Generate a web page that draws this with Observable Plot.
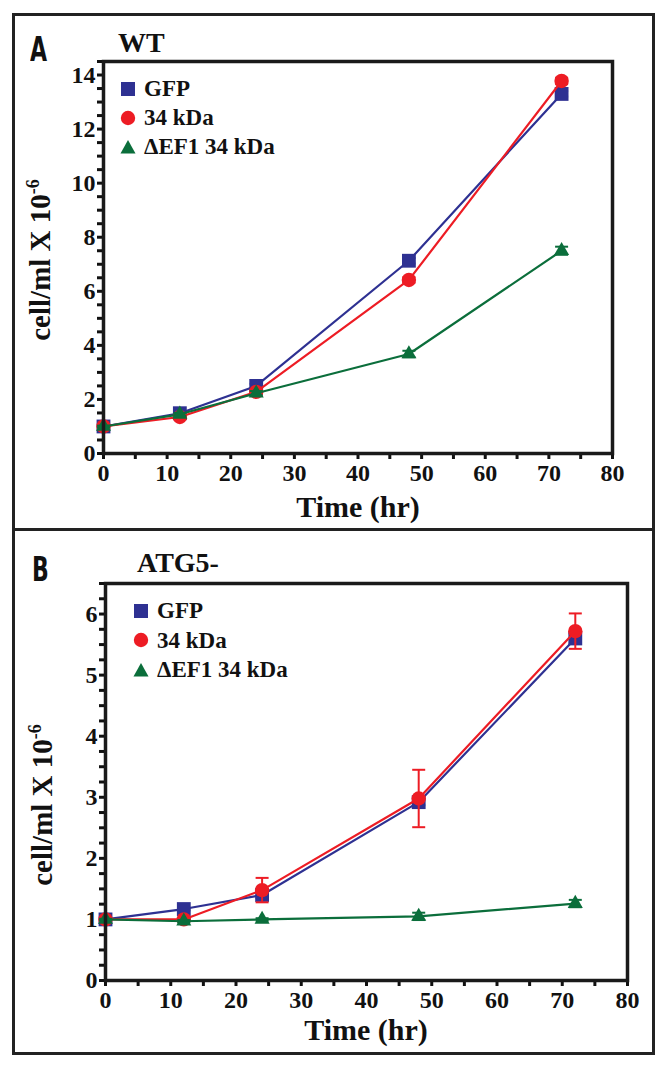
<!DOCTYPE html>
<html>
<head>
<meta charset="utf-8">
<script src="https://cdn.jsdelivr.net/npm/d3@7"></script>
<script src="https://cdn.jsdelivr.net/npm/@observablehq/plot@0.6"></script>
<style>
  html, body { margin: 0; padding: 0; background: #fff; }
  #page { position: relative; width: 666px; height: 1068px; overflow: hidden; background: #fff; }
  .abs { position: absolute; }
  .frame { left: 12px; top: 13px; width: 643px; height: 1042px; border: 3px solid #222; box-sizing: border-box; z-index: 5; }
  .divider { left: 12px; top: 528px; width: 643px; height: 3px; background: #222; z-index: 5; }
  .letter { font-family: "Liberation Sans Narrow", "DejaVu Sans Condensed", sans-serif; font-weight: bold; font-size: 34px; color: #111; transform: scaleX(0.72); transform-origin: left top; line-height: 1; }
  .ptitle { font-family: "Liberation Serif", serif; font-weight: bold; font-size: 28px; color: #111; line-height: 1; }
  .xlabel { font-family: "Liberation Serif", serif; font-weight: bold; font-size: 30px; color: #111; line-height: 1; transform: translateX(-50%); white-space: nowrap; }
  .ylabel { font-family: "Liberation Serif", serif; font-weight: bold; font-size: 29px; color: #111; line-height: 1; white-space: nowrap; transform: translate(-50%, -50%) rotate(-90deg); }
  .ylabel sup { font-size: 18px; vertical-align: 11px; line-height: 0; }
  .legend { font-family: "Liberation Serif", serif; font-weight: bold; font-size: 23px; color: #111; line-height: 1; }
  .legend .row { position: absolute; left: 0; white-space: nowrap; display: flex; align-items: center; }
  .legend svg { display: block; margin-right: 7px; }
  .chart { left: 0; }
</style>
</head>
<body>
<div id="page"></div>
<script>
// ---------- data ----------
const hours = [0, 12, 24, 48, 72];
const seriesNames = ["GFP", "34 kDa", "\u0394EF1 34 kDa"];
const seriesColors = ["#2e3192", "#ed1c24", "#0b6e3b"];
const seriesSymbols = ["square", "circle", "triangle"];

// Panel A (WT), cell/ml x 10^-6
const wtGFP      = [1.0, 1.49, 2.5, 7.13, 13.3];
const wtGFPErr   = [0.03, 0.05, 0.08, 0.1, 0.1];
const wt34       = [1.0, 1.35, 2.28, 6.42, 13.78];
const wt34Err    = [0.03, 0.05, 0.08, 0.1, 0.12];
const wtDEF1     = [1.0, 1.45, 2.23, 3.68, 7.5];
const wtDEF1Err  = [0.03, 0.05, 0.08, 0.12, 0.15];

// Panel B (ATG5-)
const atgGFP     = [1.0, 1.17, 1.4, 2.92, 5.6];
const atgGFPErr  = [0.01, 0.02, 0.05, 0.05, 0.08];
const atg34      = [1.0, 1.0, 1.48, 2.98, 5.72];
const atg34Err   = [0.01, 0.02, 0.2, 0.47, 0.29];
const atgDEF1    = [1.0, 0.97, 1.0, 1.05, 1.26];
const atgDEF1Err = [0.01, 0.02, 0.02, 0.06, 0.06];

// ticks
const xTicks = [0, 10, 20, 30, 40, 50, 60, 70, 80];
const xMinorTicks = [5, 15, 25, 35, 45, 55, 65, 75];
const yTicksA = [0, 2, 4, 6, 8, 10, 12, 14];
const yTicksB = [0, 1, 2, 3, 4, 5, 6];

// ---------- build ----------
function rows(vals, errs, name) {
  return hours.map((t, i) => ({t, v: vals[i], e: errs[i], s: name}));
}
const capSymbol = {
  draw(context, size) {
    const w = Math.sqrt(size / Math.PI);
    context.moveTo(-w, 0);
    context.lineTo(w, 0);
  }
};
const symR = {square: 7.8, circle: 7.2, triangle: 5.6};

function seriesMarks(data, color, symbol) {
  return [
    Plot.ruleX(data, {x: "t", y1: d => d.v - d.e, y2: d => d.v + d.e, stroke: color, strokeWidth: 2}),
    Plot.dot(data, {x: "t", y: d => d.v + d.e, symbol: capSymbol, r: 6.5, stroke: color, strokeWidth: 2}),
    Plot.dot(data, {x: "t", y: d => d.v - d.e, symbol: capSymbol, r: 6.5, stroke: color, strokeWidth: 2}),
    Plot.line(data, {x: "t", y: "v", stroke: color, strokeWidth: 2.2}),
    Plot.dot(data, {x: "t", y: "v", symbol: symbol, r: symR[symbol], fill: color, stroke: "none"})
  ];
}

const fontOpts = {fontFamily: "'Liberation Serif', serif", fontWeight: "bold", fontSize: 24, fill: "#111"};

function makeChart(cfg) {
  const minorY = d3.range(0, cfg.ymax + 1e-9, cfg.yMinorStep).filter(v => !cfg.yTicks.includes(v));
  const marks = [];
  cfg.series.forEach((s, i) => marks.push(...seriesMarks(s, seriesColors[i], seriesSymbols[i])));
  return Plot.plot({
    width: 666,
    height: cfg.height,
    marginLeft: cfg.ml, marginRight: cfg.mr, marginTop: cfg.mt, marginBottom: cfg.mb,
    x: {domain: [0, 80]},
    y: {domain: [0, cfg.ymax]},
    style: {background: "transparent", fontFamily: "'Liberation Serif', serif", fontWeight: "bold", fontSize: "24px", color: "#111", overflow: "visible"},
    marks: [
      Plot.axisX({ticks: xMinorTicks, tickFormat: () => "", tickSize: 6, strokeWidth: 3, label: null}),
      Plot.axisX({ticks: xTicks, tickFormat: d => String(d), tickSize: 6, strokeWidth: 3, tickPadding: 4, label: null, ...fontOpts}),
      Plot.axisY({ticks: minorY, tickFormat: () => "", tickSize: 6, strokeWidth: 3, label: null}),
      Plot.axisY({ticks: cfg.yTicks, tickFormat: d => String(d), tickSize: 6, strokeWidth: 3, tickPadding: 2, label: null, ...fontOpts}),
      ...marks,
      Plot.frame({stroke: "#1a1a1a", strokeWidth: 3.5})
    ]
  });
}

const page = document.getElementById("page");
function add(html, cls, style) {
  const d = document.createElement("div");
  d.className = "abs " + cls;
  Object.assign(d.style, style);
  d.innerHTML = html;
  page.appendChild(d);
  return d;
}

add("", "frame", {});
add("", "divider", {});

// Panel A chart
const chartA = makeChart({
  height: 530, ml: 103, mr: 54, mt: 61, mb: 77, ymax: 14.5, yMinorStep: 0.5, yTicks: yTicksA,
  series: [rows(wtGFP, wtGFPErr, seriesNames[0]), rows(wt34, wt34Err, seriesNames[1]), rows(wtDEF1, wtDEF1Err, seriesNames[2])]
});
const wrapA = add("", "chart", {top: "0px"});
wrapA.appendChild(chartA);

// Panel B chart
const chartB = makeChart({
  height: 538, ml: 105, mr: 39, mt: 53, mb: 88, ymax: 6.5, yMinorStep: 0.25, yTicks: yTicksB,
  series: [rows(atgGFP, atgGFPErr, seriesNames[0]), rows(atg34, atg34Err, seriesNames[1]), rows(atgDEF1, atgDEF1Err, seriesNames[2])]
});
const wrapB = add("", "chart", {top: "530px"});
wrapB.appendChild(chartB);

// Panel letters & titles
add("A", "letter", {left: "30px", top: "32px"});
add("WT", "ptitle", {left: "118px", top: "29px"});
add("B", "letter", {left: "32px", top: "552px"});
add("ATG5-", "ptitle", {left: "137px", top: "549px"});

// axis labels
add("Time (hr)", "xlabel", {left: "358px", top: "492px"});
add("Time (hr)", "xlabel", {left: "366px", top: "1015px"});
add("cell/ml X 10<sup>-6</sup>", "ylabel", {left: "40px", top: "260px"});
add("cell/ml X 10<sup>-6</sup>", "ylabel", {left: "42px", top: "805px"});

// legends
function legendSymbol(sym, color) {
  const s = 18;
  let shape;
  if (sym === "square") shape = `<rect x="2" y="2" width="14" height="14" fill="${color}"/>`;
  else if (sym === "circle") shape = `<circle cx="9" cy="9" r="7.2" fill="${color}"/>`;
  else shape = `<polygon points="9,2 16.5,15.5 1.5,15.5" fill="${color}"/>`;
  return `<svg width="${s}" height="${s}" viewBox="0 0 ${s} ${s}">${shape}</svg>`;
}
function addLegend(left, top, gap) {
  const lg = add("", "legend", {left: left + "px", top: top + "px", zIndex: 6});
  seriesNames.forEach((n, i) => {
    const r = document.createElement("div");
    r.className = "row";
    r.style.top = (i * gap) + "px";
    r.innerHTML = legendSymbol(seriesSymbols[i], seriesColors[i]) + `<span>${n}</span>`;
    lg.appendChild(r);
  });
}
addLegend(119, 77, 29);
addLegend(132, 599, 29.5);
</script>
</body>
</html>
